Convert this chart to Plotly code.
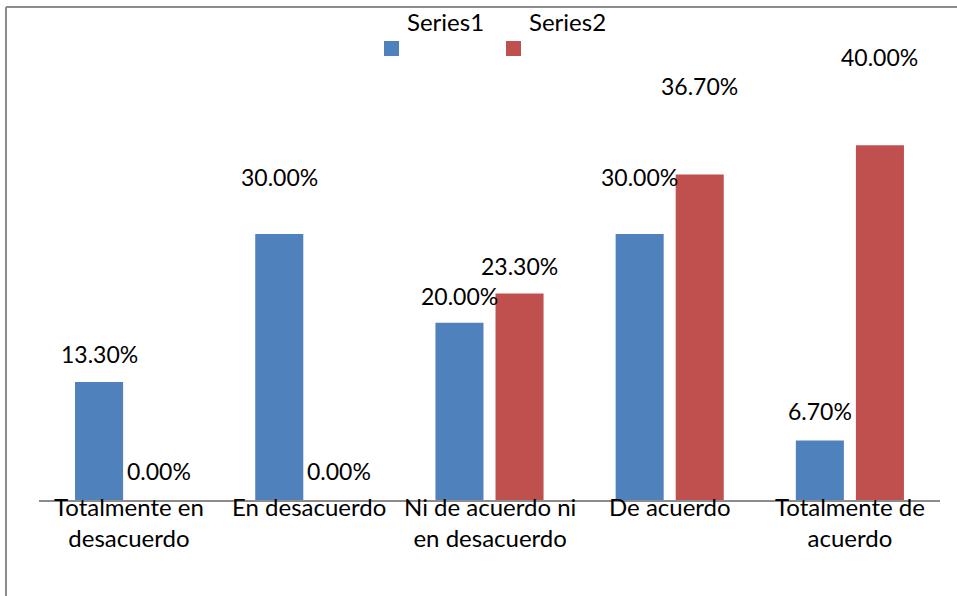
import plotly.graph_objects as go

categories = ["Totalmente en desacuerdo", "En desacuerdo", "Ni de acuerdo ni en desacuerdo",
              "De acuerdo", "Totalmente de acuerdo"]
tick_labels = ["Totalmente en<br>desacuerdo", "En desacuerdo", "Ni de acuerdo ni<br>en desacuerdo",
               "De acuerdo", "Totalmente de<br>acuerdo"]
series1 = [13.3, 30.0, 20.0, 30.0, 6.7]
series2 = [0.0, 0.0, 23.3, 36.7, 40.0]
series_names = ["Series1", "Series2"]

# label offsets (pixels above bar top) as manually placed in the original
s1_label_lift = [28, 57, 27, 57, 30]
s2_label_lift = [29, 29, 27, 89, 88]

BLUE = "#4F81BD"
RED = "#C0504D"
FONT = "Lato"
FS_DATA = 23
FS_TEXT = 24

W, H = 957, 596
L, R, T, B = 39, 17, 101, 96
PW = W - L - R
PH = H - T - B


def px(x):
    return (x - L) / PW


def py(y):
    return (H - B - y) / PH


fig = go.Figure()
fig.add_bar(x=categories, y=series1, name=series_names[0], marker_color=BLUE, marker_line_width=0)
fig.add_bar(x=categories, y=series2, name=series_names[1], marker_color=RED, marker_line_width=0)

annotations = []
for cat, v, lift in zip(categories, series1, s1_label_lift):
    annotations.append(dict(x=cat, y=v, xref="x", yref="y", text=f"{v:.2f}%", showarrow=False,
                            xshift=-30, yshift=lift, yanchor="middle",
                            font=dict(family=FONT, size=FS_DATA, color="black")))
for cat, v, lift in zip(categories, series2, s2_label_lift):
    annotations.append(dict(x=cat, y=v, xref="x", yref="y", text=f"{v:.2f}%", showarrow=False,
                            xshift=30, yshift=lift, yanchor="middle",
                            font=dict(family=FONT, size=FS_DATA, color="black")))
for cat, lab in zip(categories, tick_labels):
    annotations.append(dict(x=cat, y=0, xref="x", yref="y", text=lab, showarrow=False,
                            yanchor="top", yshift=10,
                            font=dict(family=FONT, size=FS_TEXT, color="black")))

# custom legend: text above colour squares
legend_items = [(series_names[0], BLUE, 384, 405), (series_names[1], RED, 506, 527)]
shapes = []
for name, col, sx, tx in legend_items:
    shapes.append(dict(type="rect", xref="paper", yref="paper", x0=px(sx), x1=px(sx + 15),
                       y0=py(56), y1=py(41), fillcolor=col, line_width=0))
    annotations.append(dict(x=px(tx), y=py(22), xref="paper", yref="paper", text=name,
                            showarrow=False, xanchor="left", yanchor="middle",
                            font=dict(family=FONT, size=FS_TEXT, color="black")))

# chart border (top and left visible)
shapes.append(dict(type="line", xref="paper", yref="paper", x0=px(6), x1=px(970), y0=py(7), y1=py(7),
                   line=dict(color="#8C8C8C", width=2)))
shapes.append(dict(type="line", xref="paper", yref="paper", x0=px(6), x1=px(6), y0=py(7), y1=py(610),
                   line=dict(color="#8C8C8C", width=2)))

fig.update_layout(
    width=W, height=H,
    margin=dict(l=L, r=R, t=T, b=B, autoexpand=False),
    paper_bgcolor="white", plot_bgcolor="white",
    barmode="group", bargap=1 / 3, bargroupgap=0.2,
    showlegend=False,
    annotations=annotations, shapes=shapes,
    xaxis=dict(showline=True, linecolor="#8C8C8C", linewidth=1.5, showticklabels=False,
               ticks="", showgrid=False, zeroline=False),
    yaxis=dict(range=[0, 45], visible=False, showgrid=False, zeroline=False),
)

fig.write_html("out.html")
